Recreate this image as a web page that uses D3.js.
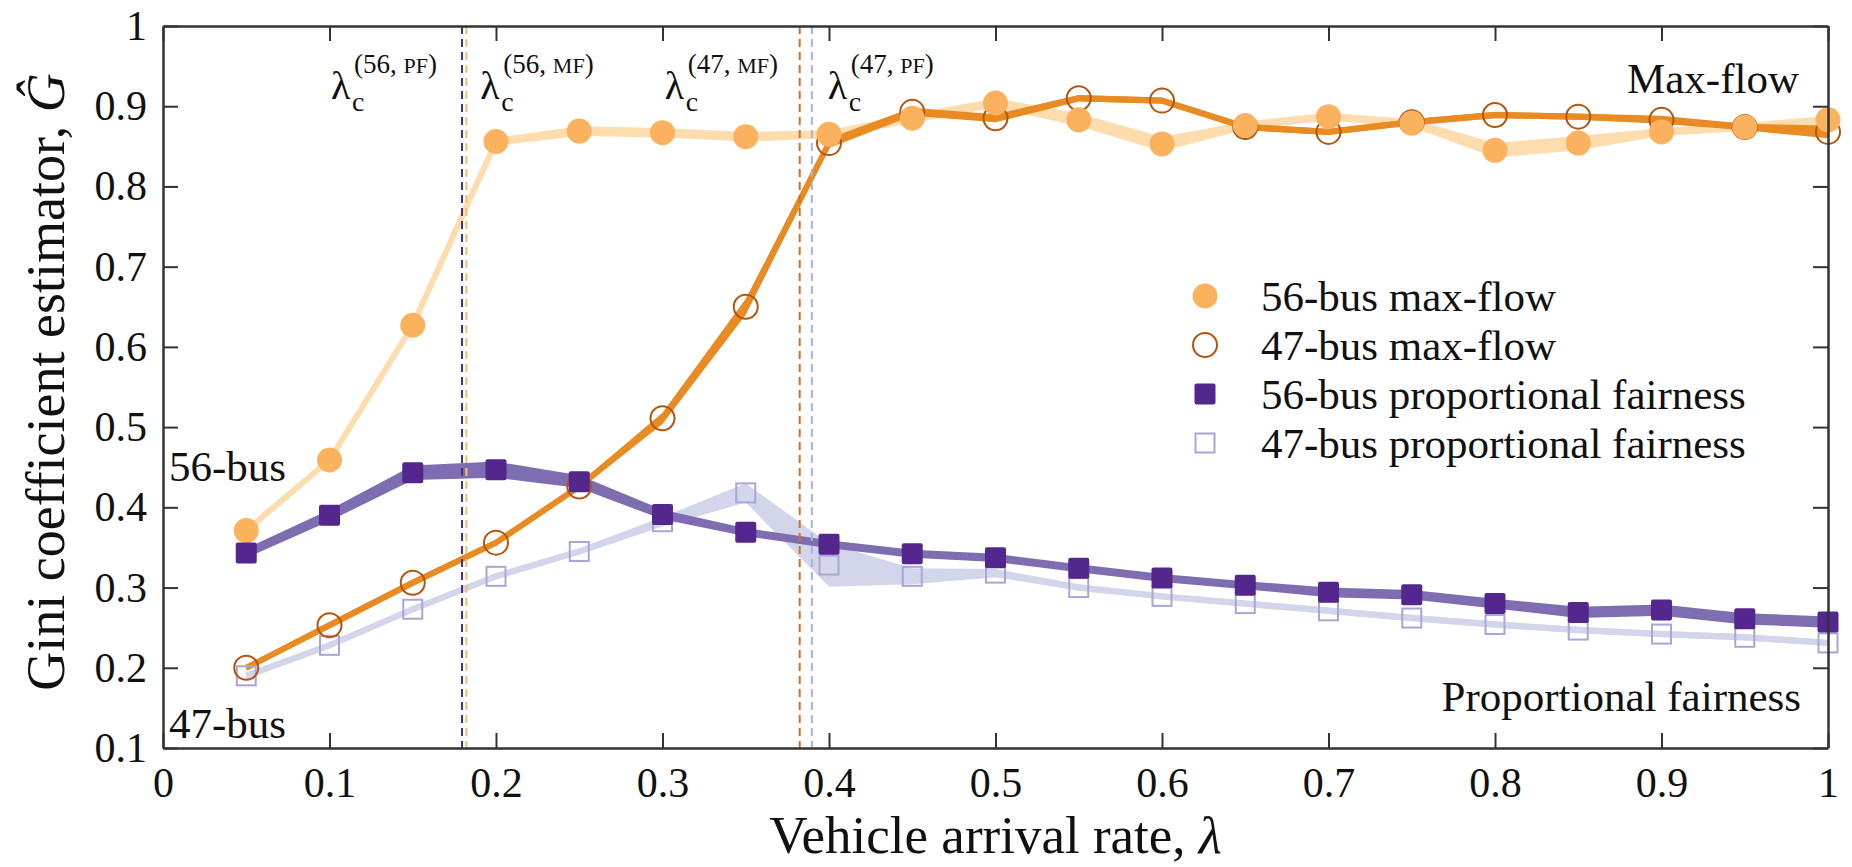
<!DOCTYPE html>
<html>
<head>
<meta charset="utf-8">
<script src="https://cdn.jsdelivr.net/npm/d3@7"></script>
<style>
  body { margin: 0; background: #fff; }
  svg text { font-family: "Liberation Serif", "Times New Roman", "DejaVu Serif", serif; fill: #111; }
</style>
</head>
<body>
<div id="chart"></div>
<script>
// arrival rates on the x axis
const lambdas = [0.05, 0.10, 0.15, 0.20, 0.25, 0.30, 0.35, 0.40, 0.45, 0.50,
                 0.55, 0.60, 0.65, 0.70, 0.75, 0.80, 0.85, 0.90, 0.95, 1.00];

// Gini estimates
const gini56MF = [0.371, 0.459, 0.627, 0.856, 0.869, 0.867, 0.862, 0.865, 0.885, 0.904,
                  0.883, 0.853, 0.876, 0.887, 0.879, 0.845, 0.854, 0.868, 0.874, 0.883];
const gini47MF = [0.200, 0.253, 0.306, 0.356, 0.426, 0.511, 0.650, 0.854, 0.893, 0.885,
                  0.910, 0.907, 0.874, 0.868, 0.880, 0.889, 0.887, 0.883, 0.874, 0.868];
const gini56PF = [0.343, 0.390, 0.443, 0.447, 0.432, 0.391, 0.369, 0.354, 0.342, 0.337,
                  0.324, 0.312, 0.303, 0.294, 0.291, 0.280, 0.269, 0.272, 0.261, 0.257];
const gini47PF = [0.190, 0.228, 0.273, 0.314, 0.345, 0.382, 0.418, 0.328, 0.314, 0.318,
                  0.300, 0.289, 0.280, 0.271, 0.262, 0.254, 0.247, 0.242, 0.238, 0.231];

// half width of the shaded bands
const spread56MF = [0.004, 0.004, 0.005, 0.005, 0.006, 0.006, 0.006, 0.005, 0.006, 0.006,
                    0.008, 0.009, 0.005, 0.005, 0.005, 0.009, 0.009, 0.005, 0.005, 0.005];
const spread47MF = [0.003, 0.004, 0.004, 0.004, 0.004, 0.007, 0.010, 0.006, 0.005, 0.005,
                    0.004, 0.004, 0.004, 0.004, 0.004, 0.004, 0.004, 0.005, 0.004, 0.008];
const spread56PF = [0.006, 0.007, 0.009, 0.010, 0.008, 0.006, 0.005, 0.005, 0.005, 0.005,
                    0.005, 0.005, 0.005, 0.006, 0.006, 0.006, 0.007, 0.007, 0.007, 0.007];
const spread47PF = [0.004, 0.004, 0.004, 0.004, 0.004, 0.006, 0.012, 0.027, 0.010, 0.005,
                    0.004, 0.004, 0.004, 0.004, 0.004, 0.004, 0.004, 0.004, 0.004, 0.004];

// critical arrival rates (dashed lines)
const critKeys = ["56, PF", "56, MF", "47, MF", "47, PF"];
const critValues = [0.1796, 0.1822, 0.3824, 0.3897];

const xTicks = [0, 0.1, 0.2, 0.3, 0.4, 0.5, 0.6, 0.7, 0.8, 0.9, 1];
const yTicks = [0.1, 0.2, 0.3, 0.4, 0.5, 0.6, 0.7, 0.8, 0.9, 1];

const legendLabels = ["56-bus max-flow", "47-bus max-flow",
                      "56-bus proportional fairness", "47-bus proportional fairness"];

const width = 1852, height = 867;
const margin = { top: 26, right: 24, bottom: 119, left: 163 };
const serif = "'Liberation Serif', 'Times New Roman', 'DejaVu Serif', serif";

const svg = d3.select("#chart").append("svg")
    .attr("width", width)
    .attr("height", height)
    .attr("font-family", serif);

const x = d3.scaleLinear().domain([0, 1]).range([margin.left, width - margin.right]);
const y = d3.scaleLinear().domain([0.1, 1]).range([height - margin.bottom, margin.top]);

const fmt = d => (d === 0 || d === 1) ? String(d) : d.toFixed(1);

/*
    one series = shaded band + thick centre line + markers
*/
function makeRows(vals, spread) {
    return lambdas.map((l, i) => ({ l: l, v: vals[i], s: spread[i] }));
}

const series = {
    mf56: { rows: makeRows(gini56MF, spread56MF), band: "#fddcae" },
    mf47: { rows: makeRows(gini47MF, spread47MF), band: "#e88b22" },
    pf56: { rows: makeRows(gini56PF, spread56PF), band: "#7e6db0" },
    pf47: { rows: makeRows(gini47PF, spread47PF), band: "#d3d6ea" }
};

const area = d3.area()
    .x(d => x(d.l))
    .y0(d => y(d.v - d.s))
    .y1(d => y(d.v + d.s));

const line = d3.line()
    .x(d => x(d.l))
    .y(d => y(d.v));

const bands = svg.append("g");
["pf47", "mf56", "pf56", "mf47"].forEach(k => {
    const s = series[k];
    bands.append("path")
        .datum(s.rows)
        .attr("d", area)
        .attr("fill", s.band);
    bands.append("path")
        .datum(s.rows)
        .attr("d", line)
        .attr("fill", "none")
        .attr("stroke", s.band)
        .attr("stroke-width", 6)
        .attr("stroke-linejoin", "round");
});

// dashed critical lines
const critColors = ["#4a2a8c", "#f5c15c", "#d46f1c", "#a8b3dc"];
svg.append("g").selectAll("line")
    .data(critValues)
    .enter().append("line")
    .attr("x1", d => x(d)).attr("x2", d => x(d))
    .attr("y1", y(1)).attr("y2", y(0.1))
    .attr("stroke", (d, i) => critColors[i])
    .attr("stroke-width", 2)
    .attr("stroke-dasharray", "8,5");

// markers
const markers = svg.append("g");
const sq56 = 21, sq47 = 19;

markers.selectAll(".pf47")
    .data(series.pf47.rows)
    .enter().append("rect")
    .attr("x", d => x(d.l) - sq47 / 2)
    .attr("y", d => y(d.v) - sq47 / 2)
    .attr("width", sq47).attr("height", sq47)
    .attr("fill", "none")
    .attr("stroke", "#a9a5d5")
    .attr("stroke-width", 2);

markers.selectAll(".mf47")
    .data(series.mf47.rows)
    .enter().append("circle")
    .attr("cx", d => x(d.l))
    .attr("cy", d => y(d.v))
    .attr("r", 12)
    .attr("fill", "none")
    .attr("stroke", "#b4550f")
    .attr("stroke-width", 2);

markers.selectAll(".mf56")
    .data(series.mf56.rows)
    .enter().append("circle")
    .attr("cx", d => x(d.l))
    .attr("cy", d => y(d.v))
    .attr("r", 12.5)
    .attr("fill", "#fbb25e");

markers.selectAll(".pf56")
    .data(series.pf56.rows)
    .enter().append("rect")
    .attr("x", d => x(d.l) - sq56 / 2)
    .attr("y", d => y(d.v) - sq56 / 2)
    .attr("width", sq56).attr("height", sq56)
    .attr("rx", 2)
    .attr("fill", "#54278f");

// axes, ticks pointing inwards on all four sides
const axisG = svg.append("g").attr("class", "axes");
const tickFont = 42;

axisG.append("g")
    .attr("transform", `translate(0,${y(0.1)})`)
    .call(d3.axisBottom(x).tickValues(xTicks).tickFormat(fmt).tickSizeInner(-15).tickSizeOuter(0).tickPadding(19));
axisG.append("g")
    .attr("transform", `translate(${x(0)},0)`)
    .call(d3.axisLeft(y).tickValues(yTicks).tickFormat(fmt).tickSizeInner(-15).tickSizeOuter(0).tickPadding(16));
axisG.append("g")
    .attr("transform", `translate(0,${y(1)})`)
    .call(d3.axisTop(x).tickValues(xTicks).tickFormat("").tickSizeInner(-15).tickSizeOuter(0));
axisG.append("g")
    .attr("transform", `translate(${x(1)},0)`)
    .call(d3.axisRight(y).tickValues(yTicks).tickFormat("").tickSizeInner(-15).tickSizeOuter(0));

axisG.selectAll("g").attr("font-family", serif);
axisG.selectAll("text")
    .style("font-size", tickFont + "px")
    .style("font-family", serif)
    .attr("fill", "#111");
axisG.selectAll("line").attr("stroke", "#333").attr("stroke-width", 2);
axisG.selectAll("path.domain").attr("stroke", "#333").attr("stroke-width", 2.5);

// axis titles
svg.append("text")
    .attr("x", (x(0) + x(1)) / 2)
    .attr("y", 853)
    .attr("text-anchor", "middle")
    .style("font-size", "53px")
    .html("Vehicle arrival rate, <tspan font-style='italic'>λ</tspan>");

svg.append("text")
    .attr("transform", "translate(64,382) rotate(-90)")
    .attr("text-anchor", "middle")
    .style("font-size", "54px")
    .html("Gini coefficient estimator, <tspan font-style='italic'>Ĝ</tspan>");

// critical rate labels: lambda_c^(..)
const critOffsets = [-131, 14, -135, 16];
critValues.forEach((v, i) => {
    const lx = x(v) + critOffsets[i];
    const parts = critKeys[i].split(", ");
    svg.append("text")
        .attr("x", lx).attr("y", 99)
        .style("font-size", "40px")
        .text("λ");
    svg.append("text")
        .attr("x", lx + 21).attr("y", 111)
        .style("font-size", "28px")
        .text("c");
    const sup = svg.append("text")
        .attr("x", lx + 23).attr("y", 73)
        .style("font-size", "27px");
    sup.append("tspan").text("(" + parts[0] + ", ");
    sup.append("tspan").style("font-size", "22px").text(parts[1]);
    sup.append("tspan").text(")");
});

// side annotations
const noteFont = "43px";
svg.append("text").attr("x", 169).attr("y", 481).style("font-size", noteFont).text("56-bus");
svg.append("text").attr("x", 169).attr("y", 738).style("font-size", noteFont).text("47-bus");
svg.append("text").attr("x", 1799).attr("y", 93).attr("text-anchor", "end").style("font-size", noteFont).text("Max-flow");
svg.append("text").attr("x", 1801).attr("y", 711).attr("text-anchor", "end").style("font-size", noteFont).text("Proportional fairness");

// legend
const legendY = [296, 345, 394, 443];
const legend = svg.append("g");
const lx0 = 1205;

legend.append("circle").attr("cx", lx0).attr("cy", legendY[0]).attr("r", 12.5).attr("fill", "#fbb25e");
legend.append("circle").attr("cx", lx0).attr("cy", legendY[1]).attr("r", 12)
    .attr("fill", "none").attr("stroke", "#b4550f").attr("stroke-width", 2);
legend.append("rect").attr("x", lx0 - sq56 / 2).attr("y", legendY[2] - sq56 / 2)
    .attr("width", sq56).attr("height", sq56).attr("rx", 2).attr("fill", "#54278f");
legend.append("rect").attr("x", lx0 - sq47 / 2).attr("y", legendY[3] - sq47 / 2)
    .attr("width", sq47).attr("height", sq47)
    .attr("fill", "none").attr("stroke", "#a9a5d5").attr("stroke-width", 2);

legend.selectAll("text")
    .data(legendLabels)
    .enter().append("text")
    .attr("x", 1261)
    .attr("y", (d, i) => legendY[i] + 15)
    .style("font-size", "43px")
    .text(d => d);
</script>
</body>
</html>
